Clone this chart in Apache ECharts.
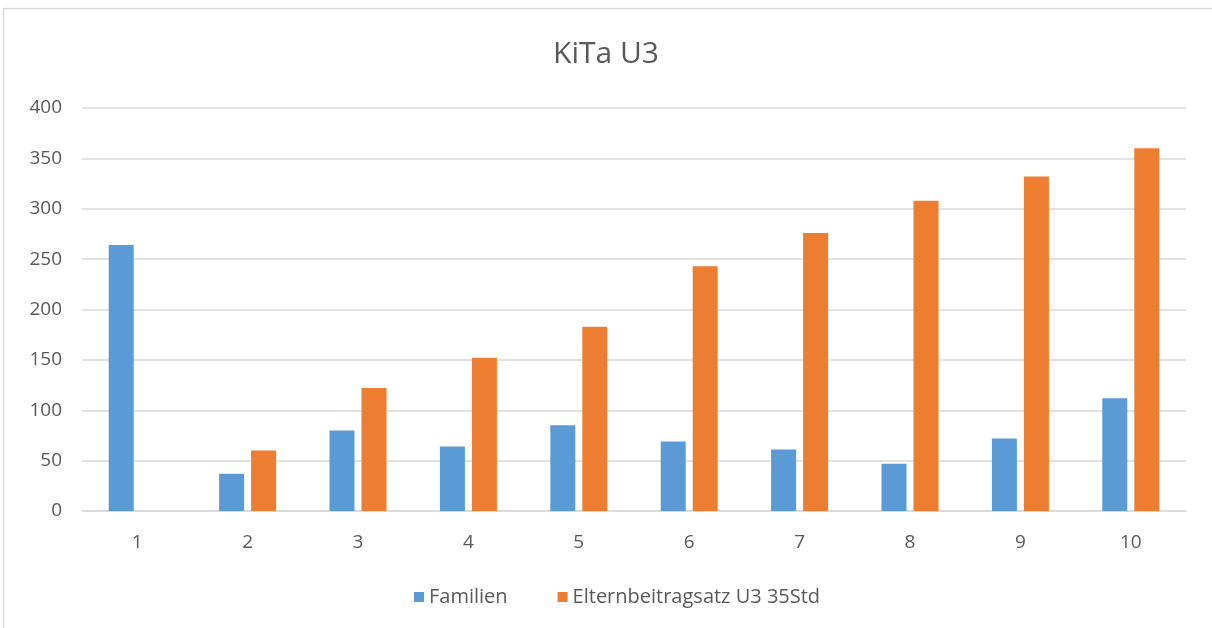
<!DOCTYPE html>
<html><head><meta charset="utf-8">
<script src="https://cdn.jsdelivr.net/npm/echarts@6/dist/echarts.min.js"></script>
<style>html,body{margin:0;padding:0;background:#fff}#c{width:1212px;height:628px}</style>
</head><body><div id="c"></div>
<script>
const categories = ['1','2','3','4','5','6','7','8','9','10'];
const familien = [264, 37, 80, 64, 85, 69, 61, 47, 72, 112];
const elternbeitrag = [0, 60, 122, 152, 183, 243, 276, 308, 332, 360];
const seriesNames = ['Familien', 'Elternbeitragsatz U3 35Std'];
const yTicks = {min: 0, max: 400, interval: 50};

const font = 'Open Sans, Noto Sans, sans-serif';
const chart = echarts.init(document.getElementById('c'));
chart.setOption({
  animation: false,
  backgroundColor: '#fff',
  title: {
    text: 'KiTa U3', left: 'center', top: 34,
    textStyle: {fontFamily: font, fontSize: 30, fontWeight: 'normal', color: '#595959'}
  },
  legend: {
    top: 582, left: 409, itemWidth: 10, itemHeight: 10, itemGap: 50,
    icon: 'rect',
    textStyle: {fontFamily: font, fontSize: 20, color: '#595959'},
    data: seriesNames
  },
  grid: {left: 82, right: 26, top: 108, bottom: 117, containLabel: false},
  xAxis: {
    type: 'category', data: categories,
    axisLine: {show: true, lineStyle: {color: '#d9d9d9', width: 1.5}},
    axisTick: {show: false},
    axisLabel: {fontFamily: font, fontSize: 19, color: '#595959', margin: 22}
  },
  yAxis: {
    type: 'value', min: yTicks.min, max: yTicks.max, interval: yTicks.interval,
    axisLine: {show: false}, axisTick: {show: false},
    axisLabel: {fontFamily: font, fontSize: 19, color: '#595959', margin: 20},
    splitLine: {lineStyle: {color: '#d9d9d9', width: 1.5}}
  },
  graphic: [{
    type: 'rect', silent: true,
    shape: {x: 3.5, y: 8.5, width: 1230, height: 640},
    style: {fill: 'none', stroke: '#d9d9d9', lineWidth: 1.5}
  }],
  series: [
    {name: seriesNames[0], type: 'bar', data: familien, barWidth: 25, barGap: '28%',
     itemStyle: {color: '#5b9bd5'}},
    {name: seriesNames[1], type: 'bar', data: elternbeitrag, barWidth: 25, barGap: '28%',
     itemStyle: {color: '#ed7d31'}}
  ]
});
</script></body></html>
